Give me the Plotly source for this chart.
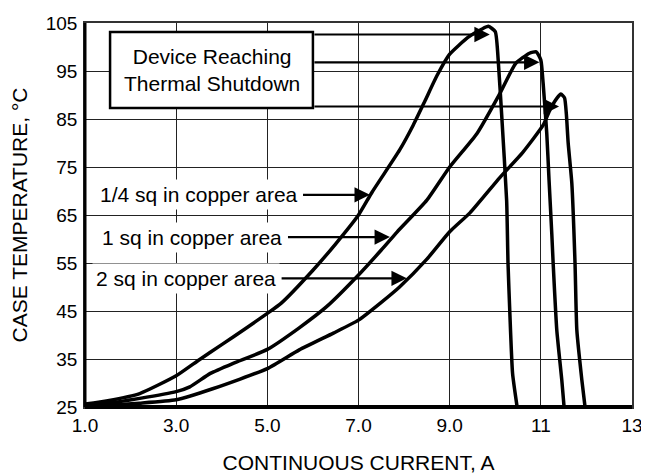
import plotly.graph_objects as go

# Case temperature vs continuous current, three copper areas
quarter_x = [1.0, 1.5, 2.2, 3.0, 3.5, 4.0, 4.5, 5.0, 5.3, 6.0, 6.5, 7.0, 7.3, 7.9, 8.2,
             8.45, 8.72, 9.0, 9.4, 9.7, 9.85, 10.0, 10.07, 10.14, 10.25, 10.28, 10.32, 10.38, 10.48]
quarter_y = [25.6, 26.3, 27.8, 31.5, 34.8, 38.0, 41.2, 44.5, 46.6, 53.5, 59.0, 65.0, 69.8, 78.5, 83.7,
             88.6, 94.0, 98.5, 102.0, 103.7, 104.3, 103.2, 96.5, 86.0, 68.0, 55.0, 44.6, 32.0, 25.0]

one_x = [1.0, 1.5, 2.2, 3.0, 3.3, 3.75, 4.25, 5.0, 5.7, 6.3, 7.0, 7.5, 7.85, 8.5, 9.0,
         9.6, 10.1, 10.45, 10.75, 10.9, 11.0, 11.05, 11.13, 11.18, 11.24, 11.27, 11.35, 11.46, 11.51]
one_y = [25.4, 25.8, 26.8, 28.2, 29.2, 32.0, 34.1, 37.0, 41.5, 45.9, 52.5, 57.7, 61.5, 68.1, 75.0,
         82.0, 90.3, 96.6, 98.7, 99.0, 97.3, 92.5, 82.0, 72.3, 61.2, 55.0, 41.0, 30.6, 25.0]

two_x = [1.0, 1.5, 2.2, 3.0, 3.8, 5.0, 5.7, 6.45, 7.0, 7.5, 7.9, 8.5, 9.0, 9.45, 10.1,
         10.6, 11.05, 11.2, 11.35, 11.44, 11.52, 11.56, 11.6, 11.68, 11.75, 11.79, 11.9, 11.97]
two_y = [25.2, 25.4, 25.8, 26.5, 28.8, 33.0, 36.9, 40.4, 43.1, 46.8, 50.0, 55.8, 61.5, 65.5, 72.8,
         78.0, 83.7, 86.9, 89.3, 90.2, 89.4, 86.0, 80.0, 71.6, 55.0, 41.0, 30.6, 25.0]

x_ticks = [1, 3, 5, 7, 9, 11, 13]
x_ticktext = ["1.0", "3.0", "5.0", "7.0", "9.0", "11", "13"]
y_ticks = [25, 35, 45, 55, 65, 75, 85, 95, 105]

FONT = "Arial, Liberation Sans, sans-serif"

fig = go.Figure()
for xs, ys in [(quarter_x, quarter_y), (one_x, one_y), (two_x, two_y)]:
    fig.add_trace(go.Scatter(
        x=xs, y=ys, mode="lines",
        line=dict(color="black", width=3.5, shape="spline", smoothing=0.5),
        showlegend=False, hoverinfo="skip",
    ))

# Boite "Device Reaching Thermal Shutdown"
fig.add_shape(type="rect", x0=1.55, x1=6.0, y0=87.3, y1=103.1,
              line=dict(color="black", width=2.5), fillcolor="white", layer="above")
fig.add_annotation(x=3.78, y=95.2, text="Device Reaching<br>Thermal Shutdown",
                   showarrow=False, font=dict(size=21, color="black", family=FONT))

# Fleches vers les pics
for tip_x, tip_y in [(9.88, 102.6), (10.97, 96.8), (11.4, 87.6)]:
    fig.add_annotation(x=tip_x, y=tip_y, ax=6.0, ay=tip_y, axref="x", ayref="y",
                       text="", showarrow=True, arrowhead=2, arrowsize=1.4,
                       arrowwidth=2.2, arrowcolor="black")

# Labels des courbes
labels = [
    ("1/4 sq in copper area", 5.75, 7.25, 69.2),
    ("1 sq in copper area", 5.42, 7.69, 60.4),
    ("2 sq in copper area", 5.28, 8.06, 51.8),
]
for text, tail_x, head_x, y in labels:
    fig.add_annotation(x=tail_x, y=y, text=text, xanchor="right", showarrow=False,
                       bgcolor="white", borderpad=3,
                       font=dict(size=21, color="black", family=FONT))
    fig.add_annotation(x=head_x, y=y, ax=tail_x, ay=y, axref="x", ayref="y",
                       text="", showarrow=True, arrowhead=2, arrowsize=1.4,
                       arrowwidth=2.2, arrowcolor="black")

# Axes epais gauche / bas
fig.add_shape(type="line", xref="paper", yref="paper", x0=0, x1=0, y0=0, y1=1,
              line=dict(color="black", width=3), layer="above")
fig.add_shape(type="line", xref="paper", yref="paper", x0=0, x1=1, y0=0, y1=0,
              line=dict(color="black", width=4), layer="above")

# la page ajoute 8 px de marge (body) autour du graphique
fig.update_layout(
    width=641, height=466,
    margin=dict(l=77, r=17, t=15, b=67),
    plot_bgcolor="white", paper_bgcolor="white",
    font=dict(family=FONT, color="black", size=19),
    xaxis=dict(
        range=[1, 13], tickvals=x_ticks, ticktext=x_ticktext, automargin=False,
        showgrid=True, gridcolor="#222", gridwidth=1.3,
        showline=True, linecolor="#333", linewidth=1.5, mirror=True,
        zeroline=False, ticks="",
        title=dict(text="CONTINUOUS CURRENT, A", standoff=28, font=dict(size=21)),
    ),
    yaxis=dict(
        range=[25, 105], tickvals=y_ticks, automargin=False,
        showgrid=True, gridcolor="#222", gridwidth=1.3,
        showline=True, linecolor="#333", linewidth=1.5, mirror=True,
        zeroline=False, ticks="outside", ticklen=2, tickcolor="white",
        title=dict(text="CASE TEMPERATURE, °C", standoff=13, font=dict(size=21)),
    ),
)

fig.write_html("out.html")
